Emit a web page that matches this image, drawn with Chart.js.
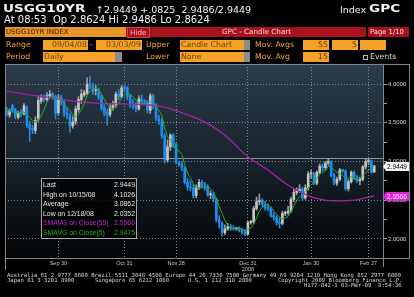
<!DOCTYPE html>
<html>
<head>
<meta charset="utf-8">
<script src="https://cdn.jsdelivr.net/npm/chart.js@4.4.1/dist/chart.umd.min.js"></script>
<style>
html,body{margin:0;padding:0;background:#000;}
#wrap{position:relative;width:414px;height:297px;overflow:hidden;background:#000;font-family:"DejaVu Sans",sans-serif;}
canvas{position:absolute;left:0;top:0;}
.t{position:absolute;white-space:pre;line-height:1;color:#f2f2f2;}
.big{font-weight:bold;font-size:10px;transform:scaleX(1.36);transform-origin:0 0;}
.lbl{position:absolute;white-space:pre;font-size:7.8px;line-height:10px;height:10px;color:#f3a22c;}
.fld{position:absolute;height:10px;line-height:10px;font-size:7.8px;background:#f6a22a;color:#6b3d08;white-space:pre;overflow:hidden;}
.r{text-align:right;padding-right:1px;box-sizing:border-box;}
.gry{position:absolute;height:10px;background:#8c8c8c;}
.ft{position:absolute;white-space:pre;font-family:"DejaVu Sans Mono",monospace;font-size:5.6px;line-height:6px;color:#d4d4d4;}
</style>
</head>
<body>
<div id="wrap">
<canvas id="chart" width="414" height="297"></canvas>

<div class="t big" style="left:3px;top:4px">USGG10YR</div>
<div class="t" style="left:96px;top:5px;font-size:9.5px">↑2.9449 +.0825  2.9486/2.9449</div>
<div class="t" style="left:340px;top:5px;font-size:9.5px">Index</div>
<div class="t big" style="left:369px;top:4px">GPC</div>
<div class="t" style="left:4px;top:15px;font-size:10px">At 08:53  Op 2.8624 Hi 2.9486 Lo 2.8624</div>

<div class="fld" style="left:5px;top:27px;width:120px;color:#3a2000;padding-left:1px;font-size:7px;background:radial-gradient(#c26c00 0.55px,transparent 0.75px) 0 0/2px 2px,#f4a232">USGG10YR INDEX</div>
<div style="position:absolute;left:126px;top:27px;width:240px;height:10px;background:#a8121f"></div>
<div class="t" style="left:127px;top:27px;width:19px;height:9px;border:0.5px solid #d04050;font-size:7.2px;line-height:10px;color:#f6b8c0;padding-left:2px">Hide</div>
<div class="t" style="left:222px;top:27px;font-size:7.2px;line-height:10px;color:#ffd6d6">GPC - Candle Chart</div>
<div style="position:absolute;left:368px;top:27px;width:41px;height:10px;background:#a8121f"></div>
<div class="t" style="left:370px;top:27px;font-size:6.8px;line-height:10px;color:#ffe0e0">Page 1/10</div>

<div class="lbl" style="left:6px;top:39.5px">Range</div>
<div class="fld r" style="left:43px;top:39.5px;width:45px">09/04/08</div>
<div class="lbl" style="left:90px;top:39.5px">-</div>
<div class="fld r" style="left:96px;top:39.5px;width:46px">03/03/09</div>
<div class="lbl" style="left:146px;top:39.5px">Upper</div>
<div class="fld" style="left:180px;top:39.5px;width:64px;padding-left:1px">Candle Chart</div>
<div class="gry" style="left:244px;top:39.5px;width:6px"></div>
<div class="lbl" style="left:255px;top:39.5px">Mov. Avgs</div>
<div class="fld r" style="left:303px;top:39.5px;width:26px">55</div>
<div class="fld r" style="left:332px;top:39.5px;width:26px">5</div>
<div class="fld r" style="left:360px;top:39.5px;width:26px"></div>

<div class="lbl" style="left:6px;top:52px">Period</div>
<div class="fld" style="left:43px;top:52px;width:72px;padding-left:1px">Daily</div>
<div class="gry" style="left:115px;top:52px;width:7px"></div>
<div class="lbl" style="left:146px;top:52px">Lower</div>
<div class="fld" style="left:180px;top:52px;width:64px;padding-left:1px">None</div>
<div class="gry" style="left:244px;top:52px;width:6px"></div>
<div class="lbl" style="left:255px;top:52px">Mov. Avg</div>
<div class="fld r" style="left:303px;top:52px;width:26px">15</div>
<div style="position:absolute;left:363px;top:54.5px;width:3px;height:3px;border:1px solid #b8b8b8"></div>
<div class="lbl" style="left:370px;top:52px;color:#d8d8d8">Events</div>

<div class="ft" style="left:7px;top:271.5px">Australia 61 2 9777 8600 Brazil 5511 3048 4500 Europe 44 20 7330 7500 Germany 49 69 9204 1210 Hong Kong 852 2977 6000</div>
<div class="ft" style="left:7px;top:276.8px">Japan 81 3 3201 8900</div>
<div class="ft" style="left:95px;top:276.8px">Singapore 65 6212 1000</div>
<div class="ft" style="left:188px;top:276.8px">U.S. 1 212 318 2000</div>
<div class="ft" style="left:278px;top:276.8px">Copyright 2009 Bloomberg Finance L.P.</div>
<div class="ft" style="left:304px;top:282px">H177-842-1 03-Mar-09  8:54:36</div>
</div>

<script>
// daily bars, one per weekday 09/04/08 .. 03/03/09
const opens = [3.66,3.60,3.72,3.67,3.57,3.63,3.62,3.70,3.48,3.43,
  3.40,3.56,3.78,3.83,3.80,3.85,3.88,3.84,3.63,3.83,
  3.77,3.63,3.59,3.46,3.52,3.67,3.80,3.86,3.88,4.00,
  3.97,3.92,3.93,3.84,3.70,3.63,3.61,3.70,3.73,3.87,
  3.84,3.96,3.95,3.85,3.73,3.73,3.68,3.81,3.78,3.77,
  3.66,3.85,3.73,3.56,3.52,3.33,3.02,3.19,3.34,3.22,
  2.99,2.96,2.91,2.73,2.67,2.66,2.56,2.67,2.73,2.69,
  2.68,2.57,2.57,2.51,2.25,2.20,2.08,2.13,2.16,2.14,
  2.13,2.13,2.12,2.09,2.06,2.21,2.22,2.39,2.48,2.49,
  2.45,2.40,2.39,2.30,2.28,2.21,2.20,2.33,2.34,2.36,
  2.51,2.60,2.62,2.64,2.53,2.66,2.84,2.84,2.72,2.86,
  2.94,2.92,2.98,3.00,2.82,2.72,2.77,2.89,2.88,2.65,
  2.74,2.86,2.79,2.75,2.77,2.93,3.00,3.01,2.8624];
const highs = [3.70,3.68,3.74,3.69,3.65,3.67,3.75,3.72,3.52,3.47,
  3.58,3.85,3.86,3.86,3.89,3.92,3.89,3.86,3.86,3.86,
  3.80,3.70,3.62,3.58,3.72,3.84,3.93,3.92,4.08,4.1026,
  4.01,3.98,3.95,3.86,3.74,3.68,3.75,3.78,3.90,3.93,
  3.98,3.99,3.97,3.87,3.80,3.76,3.85,3.86,3.80,3.79,
  3.88,3.87,3.75,3.60,3.55,3.36,3.28,3.36,3.36,3.24,
  3.00,3.00,2.93,2.78,2.75,2.70,2.70,2.77,2.76,2.73,
  2.70,2.62,2.60,2.53,2.30,2.22,2.18,2.20,2.19,2.17,
  2.15,2.16,2.14,2.12,2.23,2.24,2.42,2.54,2.58,2.52,
  2.49,2.45,2.41,2.34,2.30,2.27,2.36,2.36,2.42,2.54,
  2.64,2.66,2.70,2.67,2.70,2.87,2.89,2.86,2.88,2.97,
  2.97,3.00,3.04,3.01,2.85,2.80,2.91,2.90,2.89,2.77,
  2.88,2.88,2.82,2.80,2.95,3.03,3.04,3.02,2.9486];
const lows = [3.59,3.57,3.64,3.55,3.55,3.58,3.60,3.44,3.26,3.36,
  3.36,3.52,3.75,3.77,3.78,3.82,3.80,3.55,3.60,3.73,
  3.58,3.55,3.38,3.43,3.48,3.64,3.75,3.84,3.86,3.94,
  3.87,3.86,3.80,3.66,3.59,3.47,3.58,3.66,3.70,3.80,
  3.82,3.90,3.80,3.70,3.68,3.64,3.66,3.75,3.74,3.63,
  3.62,3.68,3.53,3.48,3.30,2.98,2.99,3.14,3.18,2.97,
  2.94,2.88,2.71,2.63,2.62,2.53,2.53,2.64,2.66,2.63,
  2.55,2.52,2.48,2.22,2.14,2.0352,2.05,2.11,2.11,2.11,
  2.11,2.09,2.06,2.04,2.05,2.19,2.20,2.37,2.44,2.42,
  2.37,2.36,2.28,2.24,2.18,2.14,2.18,2.30,2.31,2.34,
  2.48,2.57,2.60,2.50,2.51,2.63,2.78,2.70,2.70,2.84,
  2.88,2.89,2.95,2.80,2.70,2.69,2.75,2.86,2.63,2.62,
  2.72,2.77,2.73,2.70,2.75,2.90,2.96,2.85,2.8624];
const closes = [3.62,3.65,3.66,3.58,3.62,3.62,3.72,3.47,3.42,3.41,
  3.53,3.79,3.82,3.81,3.85,3.87,3.84,3.62,3.82,3.78,
  3.62,3.60,3.47,3.51,3.68,3.80,3.87,3.89,4.00,3.97,
  3.91,3.93,3.83,3.69,3.63,3.60,3.70,3.73,3.87,3.84,
  3.95,3.95,3.84,3.73,3.72,3.69,3.81,3.78,3.77,3.67,
  3.85,3.72,3.56,3.52,3.33,3.02,3.19,3.34,3.22,2.99,
  2.96,2.92,2.73,2.67,2.66,2.56,2.67,2.73,2.69,2.68,
  2.57,2.57,2.52,2.25,2.21,2.08,2.13,2.16,2.14,2.13,
  2.13,2.12,2.09,2.06,2.21,2.22,2.39,2.48,2.49,2.45,
  2.40,2.39,2.30,2.28,2.21,2.20,2.33,2.34,2.36,2.51,
  2.60,2.62,2.64,2.53,2.66,2.84,2.84,2.72,2.86,2.94,
  2.92,2.98,3.00,2.82,2.72,2.77,2.89,2.88,2.65,2.74,
  2.86,2.79,2.75,2.77,2.93,3.00,3.01,2.8624,2.9449];
const sma5 = [3.67,3.65,3.64,3.63,3.63,3.63,3.64,3.60,3.57,3.53,
  3.51,3.52,3.59,3.67,3.76,3.83,3.84,3.80,3.80,3.79,
  3.74,3.69,3.66,3.60,3.58,3.61,3.67,3.75,3.85,3.91,
  3.93,3.94,3.93,3.87,3.80,3.74,3.69,3.67,3.71,3.75,
  3.82,3.87,3.89,3.86,3.84,3.79,3.76,3.75,3.75,3.74,
  3.78,3.76,3.71,3.66,3.60,3.43,3.32,3.28,3.22,3.15,
  3.14,3.09,2.96,2.85,2.79,2.71,2.66,2.66,2.66,2.67,
  2.67,2.65,2.61,2.52,2.42,2.33,2.24,2.17,2.14,2.13,
  2.14,2.14,2.12,2.11,2.12,2.14,2.19,2.27,2.36,2.41,
  2.44,2.44,2.41,2.36,2.32,2.28,2.26,2.27,2.29,2.35,
  2.43,2.49,2.55,2.58,2.61,2.66,2.70,2.72,2.78,2.84,
  2.86,2.88,2.94,2.93,2.89,2.86,2.84,2.82,2.78,2.79,
  2.80,2.78,2.76,2.78,2.82,2.85,2.89,2.91,2.9475];
// 55-day average, read at a few points along the curve
const sma55Day = [0, 8, 16, 23, 33, 44, 50, 54, 58, 61, 64, 70, 76, 84, 91, 97, 102, 107, 115, 121, 128];
const sma55Val = [3.91, 3.86, 3.82, 3.78, 3.75, 3.74, 3.73, 3.71, 3.67, 3.63, 3.59, 3.49, 3.34, 3.06, 2.89, 2.72, 2.61, 2.53, 2.49, 2.50, 2.5566];

const xTickPos = [18, 41, 59, 84, 106, 126];
const xTickText = ['Sep 30', 'Oct 31', 'Nov 28', ['Dec 31', '2008'], 'Jan 30', 'Feb 27'];
const yTickVals = [2.0, 2.25, 2.5, 2.75, 3.0, 3.25, 3.5, 3.75, 4.0];
const refLevel = 3.045;

const infoLabels = ['Last', 'High on 10/15/08', 'Average', 'Low on 12/18/08', 'SMAVG on Close(55)', 'SMAVG on Close(5)'];
const infoValues = ['2.9449', '4.1026', '3.0862', '2.0352', '2.5566', '2.9475'];
const infoColors = ['#e6e6e6', '#e6e6e6', '#e6e6e6', '#e6e6e6', '#c424c8', '#1fb51f'];
const lastPrice = 2.9449, lastSma55 = 2.5566;

const UP = '#c4c4c4', DOWN = '#1c8cf2';
const isMajor = v => Math.abs(v * 2 - Math.round(v * 2)) < 1e-6;

const frame = {
  id: 'frame',
  beforeDraw(c) {
    const {ctx, chartArea: a} = c;
    ctx.save();
    ctx.fillStyle = '#000';
    ctx.fillRect(0, 0, c.width, c.height);
    const g = ctx.createLinearGradient(0, a.top, 0, a.bottom);
    g.addColorStop(0, '#2c3c4a');
    g.addColorStop(0.5, '#18232c');
    g.addColorStop(1, '#030405');
    ctx.fillStyle = g;
    ctx.fillRect(a.left, a.top, a.right - a.left, a.bottom - a.top);
    ctx.restore();
  },
  beforeDatasetsDraw(c) {
    const {ctx, chartArea: a, scales: {y}} = c;
    const py = Math.round(y.getPixelForValue(refLevel)) + 0.5;
    ctx.save();
    ctx.strokeStyle = '#8d959c';
    ctx.lineWidth = 1;
    ctx.beginPath(); ctx.moveTo(a.left, py); ctx.lineTo(a.right, py); ctx.stroke();
    ctx.restore();
  },
  afterDraw(c) {
    const {ctx, chartArea: a, scales: {y}} = c;
    ctx.save();
    // frame
    ctx.strokeStyle = '#80868c';
    ctx.lineWidth = 1;
    ctx.beginPath();
    ctx.moveTo(a.left + 0.5, a.top); ctx.lineTo(a.left + 0.5, 270);
    ctx.moveTo(a.left, a.top + 0.5); ctx.lineTo(409, a.top + 0.5);
    ctx.moveTo(a.right - 0.5, a.top); ctx.lineTo(a.right - 0.5, 267);
    ctx.moveTo(409.5, a.top); ctx.lineTo(409.5, a.bottom);
    ctx.moveTo(a.left, a.bottom - 0.5); ctx.lineTo(409.5, a.bottom - 0.5);
    ctx.stroke();

    // stats box
    const bx = 41.5, by = 178.5, bw = 95, bh = 60;
    ctx.fillStyle = 'rgba(0,0,0,0.8)';
    ctx.fillRect(bx, by, bw, bh);
    ctx.strokeStyle = '#a8a8a8';
    ctx.strokeRect(bx, by, bw, bh);
    ctx.font = '8px "Liberation Sans", Arial, sans-serif';
    ctx.textBaseline = 'alphabetic';
    infoLabels.forEach((lab, i) => {
      const base = by + 8.5 + i * 9.6;
      ctx.fillStyle = infoColors[i];
      ctx.save();
      ctx.translate(bx + 1.5, base);
      ctx.scale(0.86, 1);
      ctx.textAlign = 'left';
      ctx.fillText(lab, 0, 0);
      ctx.restore();
      ctx.save();
      ctx.translate(bx + bw - 1.5, base);
      ctx.scale(0.86, 1);
      ctx.textAlign = 'right';
      ctx.fillText(infoValues[i], 0, 0);
      ctx.restore();
    });

    // price tags on the axis
    const tag = (val, text, bg, fg) => {
      const cy = Math.round(y.getPixelForValue(val)) + 0.5;
      ctx.fillStyle = bg;
      ctx.beginPath();
      ctx.moveTo(a.right - 1, cy);
      ctx.lineTo(a.right + 2, cy - 4.5);
      ctx.lineTo(409, cy - 4.5);
      ctx.lineTo(409, cy + 4.5);
      ctx.lineTo(a.right + 2, cy + 4.5);
      ctx.closePath();
      ctx.fill();
      ctx.fillStyle = fg;
      ctx.font = '6.5px "Liberation Sans", Arial, sans-serif';
      ctx.textAlign = 'center';
      ctx.textBaseline = 'middle';
      ctx.fillText(text, 397, cy + 0.5);
    };
    tag(lastPrice, lastPrice.toFixed(4), '#f4f4f4', '#000');
    tag(lastSma55, lastSma55.toFixed(4), '#e21fe0', '#fff');
    ctx.restore();
  }
};

const idx = closes.map((v, i) => i);

new Chart(document.getElementById('chart'), {
  type: 'bar',
  data: {
    datasets: [
      {
        type: 'line', order: 0,
        data: idx.map(i => ({x: i, y: sma5[i]})),
        borderColor: '#1fae2a', borderWidth: 1, pointRadius: 0, tension: 0
      },
      {
        type: 'line', order: 1,
        data: sma55Day.map((d, k) => ({x: d, y: sma55Val[k]})),
        borderColor: '#a520ab', borderWidth: 1.3, pointRadius: 0, cubicInterpolationMode: 'monotone'
      },
      {
        order: 2, grouped: false, barThickness: 2, minBarLength: 1,
        data: idx.map(i => ({x: i, y: [opens[i], closes[i]]})),
        backgroundColor: idx.map(i => closes[i] >= opens[i] ? UP : DOWN),
        borderWidth: 0
      },
      {
        order: 3, grouped: false, barThickness: 1,
        data: idx.map(i => ({x: i, y: [lows[i], highs[i]]})),
        backgroundColor: idx.map(i => closes[i] >= opens[i] ? '#9c9c9c' : '#2c86dc'),
        borderWidth: 0
      }
    ]
  },
  options: {
    responsive: false,
    animation: false,
    devicePixelRatio: 1,
    events: [],
    layout: {padding: {left: 5, right: 5, top: 64, bottom: 0}},
    plugins: {legend: {display: false}, tooltip: {enabled: false}},
    scales: {
      x: {
        type: 'linear', min: -0.6, max: 131.4, offset: false,
        afterBuildTicks: s => { s.ticks = xTickPos.map(v => ({value: v})); },
        afterFit: s => { s.height = 38; },
        ticks: {
          autoSkip: false, maxRotation: 0, padding: 1, color: '#c4c4c4',
          font: {family: '"Liberation Sans", Arial', size: 5.5, lineHeight: 1.2},
          callback: v => { const k = xTickPos.indexOf(v); return k < 0 ? '' : xTickText[k]; }
        },
        grid: {offset: false, color: '#7c8892', drawTicks: false, lineWidth: 1},
        border: {display: false, dash: [1, 2]}
      },
      y: {
        position: 'right', min: 1.74, max: 4.26,
        afterBuildTicks: s => { s.ticks = yTickVals.map(v => ({value: v})); },
        afterFit: s => { s.width = 25; },
        ticks: {
          padding: 1, color: '#d6d6d6',
          font: {family: '"Liberation Sans", Arial', size: 6},
          callback: v => isMajor(v) ? v.toFixed(4) : ''
        },
        grid: {
          color: c => (c.tick && isMajor(c.tick.value)) ? '#7c8892' : 'rgba(0,0,0,0)',
          tickColor: '#9aa0a6', tickLength: 3, lineWidth: 1
        },
        border: {display: false, dash: [1, 2]}
      }
    }
  },
  plugins: [frame]
});
</script>
</body>
</html>
